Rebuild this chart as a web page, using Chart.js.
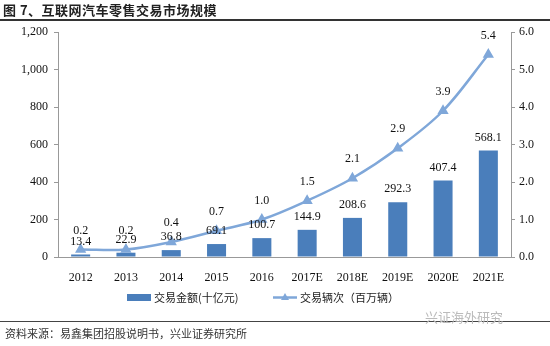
<!DOCTYPE html>
<html><head><meta charset="utf-8">
<script src="https://cdn.jsdelivr.net/npm/chart.js@4.4.0/dist/chart.umd.min.js"></script>
<style>
html,body{margin:0;padding:0;background:#fff;}
#wrap{position:relative;width:550px;height:346px;overflow:hidden;font-family:"Noto Sans CJK SC",sans-serif;}
canvas{position:absolute;left:0;top:0;}
#title{position:absolute;left:3px;top:0px;font-size:13px;font-weight:bold;color:#222;letter-spacing:0.5px;}
#tline{position:absolute;left:0;top:19px;width:550px;height:2px;background:#333;}
#bline{position:absolute;left:0;top:321px;width:550px;height:1px;background:#444;}
#src{position:absolute;left:5px;top:325px;font-size:11px;color:#333;}
#wm{position:absolute;left:425px;top:307px;font-size:13px;color:#bbb;}
</style></head>
<body><div id="wrap">
<canvas id="c" width="550" height="346"></canvas>
<div id="title">图 7、互联网汽车零售交易市场规模</div>
<div id="tline"></div>
<div id="bline"></div>
<div id="src">资料来源：易鑫集团招股说明书，兴业证券研究所</div>
<div id="wm">兴证海外研究</div>
</div>
<script>
const categories = ["2012","2013","2014","2015","2016","2017E","2018E","2019E","2020E","2021E"];
const amountValues = [13.4,22.9,36.8,69.1,100.7,144.9,208.6,292.3,407.4,568.1];
const countValues = [0.2,0.2,0.4,0.7,1.0,1.5,2.1,2.9,3.9,5.4];
const amountLabel = "交易金额(十亿元)";
const countLabel = "交易辆次（百万辆）";

const barColor = "#4A7EBB";
const lineColor = "#7FA7D9";
const numFont = '12px "Liberation Serif"';

const labelPlugin = {
  id: 'labels',
  afterDatasetsDraw(chart) {
    const ctx = chart.ctx;
    ctx.save();
    ctx.font = numFont;
    ctx.fillStyle = '#111';
    ctx.textAlign = 'center';
    ctx.textBaseline = 'middle';
    chart.getDatasetMeta(0).data.forEach((el, i) => {
      ctx.fillText(amountValues[i].toFixed(1), el.x, el.y - 13);
    });
    chart.getDatasetMeta(1).data.forEach((el, i) => {
      ctx.fillText(countValues[i].toFixed(1), el.x, el.y - 19);
    });
    // legend
    ctx.fillStyle = barColor;
    ctx.fillRect(127, 294, 24, 7);
    ctx.strokeStyle = lineColor;
    ctx.lineWidth = 2.5;
    ctx.beginPath(); ctx.moveTo(273, 297.5); ctx.lineTo(297, 297.5); ctx.stroke();
    ctx.fillStyle = lineColor;
    ctx.beginPath(); ctx.moveTo(285, 293); ctx.lineTo(289, 300); ctx.lineTo(281, 300); ctx.closePath(); ctx.fill();
    ctx.fillStyle = '#222';
    ctx.textAlign = 'left';
    ctx.font = '11px "Noto Sans CJK SC"';
    ctx.fillText(amountLabel, 154, 297.5);
    ctx.fillText(countLabel, 300, 297.5);
    ctx.restore();
  }
};

new Chart(document.getElementById('c'), {
  data: {
    labels: categories,
    datasets: [
      { type: 'bar', label: amountLabel, data: amountValues, backgroundColor: barColor,
        yAxisID: 'y', barPercentage: 0.42, categoryPercentage: 1.0, order: 2 },
      { type: 'line', label: countLabel, data: countValues, borderColor: lineColor, backgroundColor: lineColor,
        borderWidth: 2.5, pointStyle: 'triangle', pointRadius: 4, pointHoverRadius: 4,
        tension: 0.35, yAxisID: 'y1', order: 1 }
    ]
  },
  options: {
    responsive: false, animation: false, devicePixelRatio: 1,
    layout: { padding: { top: 32, left: 0, right: 0, bottom: 0 } },
    plugins: { legend: { display: false }, tooltip: { enabled: false } },
    scales: {
      x: {
        grid: { display: false },
        border: { display: true, color: '#999' },
        ticks: { color: '#111', font: { family: 'Liberation Serif', size: 12 }, padding: 6, maxRotation: 0 },
        afterFit(s) { s.height = 89; }
      },
      y: {
        position: 'left', min: 0, max: 1200,
        ticks: { stepSize: 200, color: '#111', font: { family: 'Liberation Serif', size: 12 }, padding: 6,
          callback: v => v.toLocaleString('en-US') },
        grid: { drawOnChartArea: false, drawTicks: true, tickLength: 4, color: '#999' },
        border: { display: true, color: '#999' },
        afterFit(s) { s.width = 58; }
      },
      y1: {
        position: 'right', min: 0, max: 6,
        ticks: { stepSize: 1, color: '#111', font: { family: 'Liberation Serif', size: 12 }, padding: 4,
          callback: v => v.toFixed(1) },
        grid: { drawOnChartArea: false, drawTicks: true, tickLength: 4, color: '#999' },
        border: { display: true, color: '#999' },
        afterFit(s) { s.width = 39; }
      }
    }
  },
  plugins: [labelPlugin]
});
</script>
</body></html>
